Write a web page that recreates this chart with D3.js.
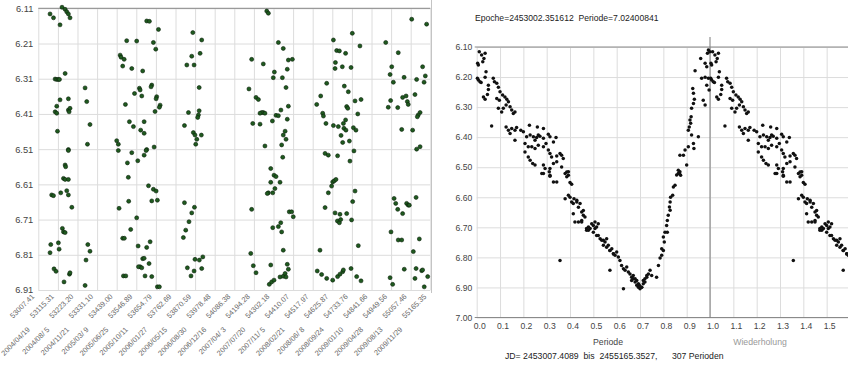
<!DOCTYPE html>
<html><head><meta charset="utf-8">
<script src="https://cdn.jsdelivr.net/npm/d3@7"></script>
<style>
body{margin:0;background:#fff;}
svg{display:block;font-family:"Liberation Sans",Arial,sans-serif;}
</style></head><body>
<svg id="c" width="848" height="365"></svg>
<script>
// ---------- data ----------
const jdTicks = [53007.41, 53115.31, 53223.20, 53331.10, 53439.00, 53546.89, 53654.79, 53762.69, 53870.59, 53978.48, 54086.38,
  54194.28, 54302.18, 54410.07, 54517.97, 54625.87, 54733.76, 54841.66, 54949.56, 55057.46, 55165.35];
const dateLabels = ["", "2004/04/19", "2004/08/ 5", "2004/11/21", "2005/03/ 9", "2005/06/25", "2005/10/11", "2006/01/27", "2006/05/15",
  "2006/08/30", "2006/12/16", "2007/04/ 3", "2007/07/20", "2007/11/ 5", "2008/02/21", "2008/06/ 8", "2008/09/24", "2009/01/10",
  "2009/04/28", "2009/08/13", "2009/11/29"];
const magTicksLeft = [6.11, 6.21, 6.31, 6.41, 6.51, 6.61, 6.71, 6.81, 6.91];
const phaseGrid = [0, 0.1, 0.2, 0.3, 0.4, 0.5, 0.6, 0.7, 0.8, 0.9, 1.0, 1.1, 1.2, 1.3, 1.4, 1.5, 1.6];
const phaseLabels = ["0.0", "0.1", "0.2", "0.3", "0.4", "0.5", "0.6", "0.7", "0.8", "0.9", "1.0", "1.1", "1.2", "1.3", "1.4", "1.5", ""];
const magTicksRight = [6.10, 6.20, 6.30, 6.40, 6.50, 6.60, 6.70, 6.80, 6.90, 7.00];
const titleText = "Epoche=2453002.351612  Periode=7.02400841";
const footerText = "JD= 2453007.4089  bis  2455165.3527,      307 Perioden";
const xTitle = "Periode", xTitleRepeat = "Wiederholung";

// [JD-2400000, mag]
const observations = [
[53072,6.126],[53091,6.137],[53127,6.157],[53138,6.107],[53155,6.113],[53164,6.12],[53173,6.126],[53182,6.137],
[53155,6.295],[53100,6.311],[53109,6.312],[53118,6.312],[53124,6.312],
[53127,6.37],[53173,6.367],[53109,6.388],[53100,6.404],[53109,6.408],[53173,6.399],[53182,6.394],[53177,6.404],
[53113,6.459],[53173,6.511],[53265,6.336],[53274,6.375],[53292,6.44],[53278,6.496],[53439,6.486],[53448,6.496],
[53604,6.146],[53619,6.147],[53669,6.17],[53494,6.202],[53549,6.203],[53641,6.207],[53654,6.226],
[53458,6.243],[53463,6.249],[53480,6.255],[53472,6.274],[53522,6.281],[53582,6.288],
[53564,6.337],[53568,6.342],[53537,6.352],[53577,6.359],[53632,6.328],[53628,6.333],[53659,6.361],[53656,6.367],
[53487,6.383],[53678,6.385],[53674,6.391],[53650,6.403],[53509,6.432],[53531,6.446],[53590,6.432],[53571,6.456],[53590,6.465],
[53604,6.511],[53645,6.504],[53858,6.179],[53907,6.2],[53852,6.246],[53898,6.238],[53825,6.271],[53865,6.271],[53893,6.335],
[53834,6.406],[53893,6.401],[53889,6.413],[53885,6.42],[53812,6.443],[53861,6.463],[53870,6.47],[53880,6.482],[53874,6.496],[53905,6.47],
[54265,6.118],[54274,6.124],[54329,6.207],[54356,6.224],[54182,6.255],[54246,6.268],[54384,6.257],[54406,6.255],[54378,6.283],
[54307,6.291],[54301,6.307],[54351,6.307],[54371,6.335],[54167,6.339],[54206,6.363],[54219,6.369],[54246,6.406],[54237,6.406],
[54228,6.408],[54255,6.408],[54384,6.388],[54343,6.399],[54316,6.414],[54329,6.415],[54378,6.425],[54296,6.43],[54188,6.437],
[54228,6.439],[54366,6.459],[54356,6.47],[54371,6.482],[54347,6.498],[54255,6.501],
[54632,6.2],[54736,6.181],[54778,6.217],[54650,6.23],[54665,6.231],[54699,6.238],[54643,6.264],[54641,6.281],[54681,6.276],
[54729,6.278],[54595,6.323],[54692,6.331],[54714,6.347],[54562,6.359],[54540,6.383],[54573,6.408],[54577,6.416],[54751,6.373],
[54784,6.369],[54705,6.389],[54711,6.394],[54766,6.41],[54591,6.437],[54632,6.443],[54659,6.446],[54687,6.437],[54699,6.427],
[54690,6.451],[54742,6.449],[54756,6.456],[54674,6.471],[54720,6.487],[54683,6.491],[54701,6.456],
[54920,6.207],[54989,6.236],[55063,6.141],[55145,6.155],[54953,6.276],[55123,6.276],[54944,6.298],[55021,6.306],[55090,6.312],
[55138,6.302],[54962,6.32],[55131,6.32],[55013,6.363],[55032,6.359],[55039,6.375],[55044,6.383],[55081,6.355],[54947,6.372],
[54934,6.391],[54986,6.392],[55109,6.406],[55099,6.413],[55094,6.418],[55008,6.454],[55068,6.456],[55109,6.503],[55090,6.51],
[53173,6.514],[53155,6.555],[53158,6.56],[53146,6.593],[53155,6.596],[53173,6.596],[53131,6.634],[53164,6.628],[53173,6.64],
[53081,6.64],[53091,6.642],[53192,6.675],[53140,6.735],[53146,6.745],[53155,6.747],[53076,6.781],[53072,6.804],[53118,6.776],
[53122,6.794],[53094,6.85],[53105,6.857],[53179,6.865],[53182,6.861],[53149,6.887],[53280,6.781],[53292,6.8],[53270,6.825],[53265,6.897],
[53448,6.514],[53498,6.549],[53522,6.52],[53555,6.543],[53590,6.527],[53601,6.514],[53503,6.59],[53505,6.658],[53452,6.678],
[53614,6.614],[53641,6.624],[53656,6.629],[53632,6.657],[53663,6.655],[53549,6.705],[53516,6.738],[53472,6.763],[53481,6.763],
[53557,6.785],[53623,6.773],[53604,6.789],[53582,6.821],[53590,6.82],[53568,6.844],[53559,6.844],[53577,6.847],[53617,6.835],
[53595,6.87],[53632,6.872],[53476,6.87],[53489,6.87],[53663,6.901],[53674,6.901],
[53812,6.662],[53837,6.716],[53819,6.74],[53806,6.761],[53867,6.675],[53852,6.691],[53828,6.847],[53848,6.87],[53865,6.856],
[53870,6.823],[53894,6.825],[53913,6.816],[53907,6.849],
[54353,6.533],[54287,6.565],[54305,6.584],[54316,6.588],[54287,6.604],[54338,6.604],[54310,6.622],[54274,6.634],[54298,6.634],
[54268,6.636],[54182,6.681],[54389,6.688],[54402,6.688],[54411,6.702],[54342,6.719],[54329,6.73],[54298,6.733],[54347,6.745],
[54356,6.797],[54177,6.806],[54191,6.841],[54206,6.861],[54287,6.839],[54378,6.837],[54384,6.851],[54279,6.894],[54292,6.887],
[54305,6.882],[54338,6.873],[54356,6.871],[54366,6.863],[54371,6.873],
[54586,6.522],[54604,6.527],[54655,6.529],[54745,6.515],[54723,6.544],[54628,6.603],[54637,6.6],[54646,6.596],[54622,6.615],
[54604,6.634],[54586,6.676],[54641,6.691],[54668,6.695],[54654,6.714],[54665,6.719],[54672,6.71],[54705,6.693],[54751,6.629],
[54738,6.659],[54732,6.711],[54769,6.784],[54558,6.797],[54543,6.856],[54567,6.866],[54595,6.877],[54628,6.882],[54655,6.872],
[54668,6.865],[54683,6.858],[54687,6.853],[54729,6.849],[54760,6.872],[54784,6.884],
[54966,6.65],[54975,6.664],[54986,6.681],[55013,6.693],[55035,6.664],[55044,6.669],[55050,6.669],[55087,6.647],[54949,6.745],
[54989,6.768],[55008,6.768],[55105,6.765],[55072,6.801],[55022,6.851],[55087,6.849],[55118,6.855],[55123,6.853],[55081,6.877],
[55151,6.872],[54944,6.875],[54958,6.894],[55132,6.901]
];

// [phase, mag]
const phased = [
[0.011,6.116],[0.021,6.127],[0.036,6.121],[0.031,6.138],[0.026,6.149],[0.007,6.16],[0.04,6.182],[0.003,6.204],[0.014,6.216],
[0.036,6.201],[0.029,6.266],[0.036,6.274],[0.05,6.227],[0.05,6.241],[0.071,6.204],[0.076,6.216],[0.086,6.221],[0.093,6.234],
[0.1,6.249],[0.086,6.271],[0.097,6.277],[0.111,6.26],[0.121,6.266],[0.129,6.274],[0.136,6.282],[0.126,6.293],[0.114,6.304],
[0.143,6.299],[0.15,6.31],[0.157,6.321],[0.164,6.316],[0.093,6.304],[0.107,6.316],[0.064,6.363],[0.126,6.366],[0.136,6.377],
[0.143,6.388],[0.15,6.371],[0.164,6.377],[0.171,6.368],[0.189,6.377],[0.2,6.382],[0.226,6.36],[0.26,6.366],[0.286,6.371],
[0.214,6.399],[0.229,6.393],[0.243,6.399],[0.25,6.41],[0.257,6.401],[0.264,6.393],[0.271,6.397],[0.286,6.404],[0.307,6.39],
[0.314,6.399],[0.329,6.416],[0.34,6.401],[0.164,6.41],[0.207,6.421],[0.221,6.432],[0.236,6.432],[0.25,6.438],[0.264,6.427],
[0.286,6.432],[0.297,6.421],[0.307,6.443],[0.314,6.454],[0.321,6.466],[0.343,6.463],[0.357,6.454],[0.364,6.46],[0.371,6.471],
[0.207,6.449],[0.221,6.466],[0.229,6.477],[0.24,6.488],[0.25,6.493],[0.286,6.493],[0.293,6.504],[0.314,6.504],[0.329,6.488],
[0.343,6.482],[0.364,6.499],[0.386,6.516],[0.393,6.527],[0.286,6.521],[0.314,6.527],
[0.004,6.154],[0.007,6.21],[0.019,6.218],[0.046,6.258],
[0.279,6.521],[0.311,6.515],[0.314,6.53],[0.329,6.549],[0.343,6.549],[0.379,6.521],[0.386,6.532],[0.393,6.515],[0.4,6.551],
[0.407,6.557],[0.379,6.605],[0.393,6.593],[0.4,6.6],[0.407,6.616],[0.414,6.621],[0.417,6.605],[0.429,6.616],[0.436,6.633],
[0.443,6.621],[0.414,6.655],[0.421,6.682],[0.436,6.682],[0.45,6.677],[0.45,6.649],[0.457,6.66],[0.464,6.666],[0.471,6.71],
[0.479,6.699],[0.486,6.704],[0.493,6.688],[0.5,6.694],[0.5,6.716],[0.507,6.704],[0.521,6.688],[0.514,6.727],[0.529,6.738],
[0.536,6.743],[0.543,6.76],[0.55,6.749],[0.557,6.738],[0.564,6.76],[0.571,6.777],[0.579,6.771],[0.586,6.788],[0.593,6.793],
[0.6,6.782],[0.607,6.799],[0.614,6.81],[0.621,6.827],[0.629,6.838],[0.636,6.843],[0.643,6.832],[0.65,6.849],[0.657,6.855],
[0.664,6.866],[0.671,6.86],[0.679,6.871],[0.686,6.877],[0.693,6.888],[0.7,6.904],[0.707,6.899],[0.697,6.893],[0.714,6.877],
[0.721,6.871],[0.729,6.86],[0.736,6.855],[0.357,6.81],[0.571,6.843],[0.629,6.904],
[0.664,6.877],[0.671,6.871],[0.679,6.882],[0.686,6.893],[0.693,6.899],[0.707,6.899],[0.714,6.888],[0.721,6.882],[0.729,6.866],
[0.743,6.843],[0.75,6.86],[0.771,6.866],[0.779,6.827],[0.786,6.802],[0.793,6.793],[0.8,6.777],[0.793,6.771],[0.804,6.749],
[0.807,6.716],[0.814,6.694],[0.817,6.677],[0.821,6.66],[0.826,6.632],[0.829,6.616],[0.831,6.6],[0.84,6.593],[0.843,6.566],
[0.85,6.56],[0.857,6.526],[0.864,6.521],[0.871,6.515],[0.829,6.643],[0.817,6.716],[0.8,6.732],
[0.429,6.61],[0.45,6.682],[0.457,6.644],[0.471,6.704],[0.479,6.71],[0.507,6.682],[0.514,6.699],[0.521,6.727],[0.543,6.743],
[0.557,6.766],[0.571,6.777],[0.586,6.788],
[0.993,6.11],[0.999,6.116],[0.989,6.121],[0.96,6.138],[0.979,6.154],[0.986,6.166],[0.936,6.179],[0.964,6.204],[0.979,6.201],
[0.993,6.204],[0.986,6.227],[0.996,6.243],[0.926,6.238],[0.929,6.254],[0.933,6.274],[0.929,6.288],[0.921,6.304],[0.971,6.277],
[0.979,6.293],[0.919,6.332],[0.914,6.343],[0.917,6.354],[0.911,6.366],[0.907,6.377],[0.921,6.393],[0.95,6.399],[0.929,6.421],
[0.931,6.438],[0.907,6.432],[0.893,6.443],[0.886,6.46],[0.871,6.46],[0.9,6.493],[0.864,6.51],[0.869,6.521],[0.874,6.527]
];

// ---------- drawing ----------
const svg = d3.select("#c");
const gridC = "#dcdcdc";

// Left panel
const lx = d3.scaleLinear().domain([jdTicks[0], jdTicks[jdTicks.length - 1]]).range([38.3, 430.3]);
const ly = d3.scaleLinear().domain([6.11, 6.91]).range([8.3, 290]);

const lyAxis = svg.append("g").attr("transform", `translate(${lx.range()[0]},0)`)
  .call(d3.axisLeft(ly).tickValues(magTicksLeft).tickSize(-(lx.range()[1] - lx.range()[0])).tickPadding(5).tickFormat(d3.format(".2f")));
const lxAxis = svg.append("g").attr("transform", `translate(0,${ly.range()[1]})`)
  .call(d3.axisBottom(lx).tickValues(jdTicks).tickSize(-(ly.range()[1] - ly.range()[0])).tickFormat(d => d.toFixed(2)));

[lyAxis, lxAxis].forEach(a => {
  a.select(".domain").remove();
  a.selectAll(".tick line").attr("stroke", gridC).attr("stroke-width", 1);
});
lyAxis.selectAll("text").attr("fill", "#444").style("font-size", "9.3px");
lxAxis.selectAll("text").attr("fill", "#666").style("font-size", "7.4px")
  .attr("x", null).attr("y", null).attr("dy", null)
  .attr("text-anchor", "end").attr("transform", "translate(-4,7) rotate(-45)");
lxAxis.selectAll(".tick").each(function (d, i) {
  if (!dateLabels[i]) return;
  d3.select(this).append("text").text(dateLabels[i])
    .attr("fill", "#666").style("font-size", "7.4px").style("white-space", "pre")
    .attr("text-anchor", "end").attr("transform", "translate(-28,40) rotate(-45)");
});
// top border line
svg.append("line").attr("x1", lx.range()[0]).attr("x2", lx.range()[1]).attr("y1", ly(6.11)).attr("y2", ly(6.11))
  .attr("stroke", "#9a9a9a").attr("stroke-width", 1.2);
// separator
svg.append("line").attr("x1", 431.5).attr("x2", 431.5).attr("y1", 0).attr("y2", 293).attr("stroke", "#c4c4c4");

svg.append("g").selectAll("circle").data(observations).join("circle")
  .attr("cx", d => lx(d[0])).attr("cy", d => ly(d[1])).attr("r", 2)
  .attr("fill", "#1f5a1f").attr("stroke", "#0c200c").attr("stroke-width", 0.6);

// Right panel
const rx = d3.scaleLinear().domain([0, 1.6]).range([476.7, 850]);
const ry = d3.scaleLinear().domain([6.10, 7.00]).range([47, 317.5]);

const ryAxis = svg.append("g").attr("transform", `translate(${rx(0)},0)`)
  .call(d3.axisLeft(ry).tickValues(magTicksRight).tickSize(-(rx.range()[1] - rx(0))).tickPadding(4.5).tickFormat(d3.format(".2f")));
const rxAxis = svg.append("g").attr("transform", `translate(0,${ry(7.0)})`)
  .call(d3.axisBottom(rx).tickValues(phaseGrid).tickSize(-(ry(7.0) - ry(6.1))).tickPadding(5).tickFormat((d, i) => phaseLabels[i]));
[ryAxis, rxAxis].forEach(a => {
  a.select(".domain").remove();
  a.selectAll(".tick line").attr("stroke", gridC).attr("stroke-width", 1);
});
ryAxis.selectAll("text").attr("fill", "#444").style("font-size", "8.6px");
rxAxis.selectAll("text").attr("fill", "#444").style("font-size", "8.6px").attr("x", 2.5);

// frame lines
svg.append("line").attr("x1", rx(0) - 2).attr("x2", 848).attr("y1", ry(6.1)).attr("y2", ry(6.1))
  .attr("stroke", "#8a8a8a").attr("stroke-width", 1.2);
svg.append("line").attr("x1", rx(0) - 2).attr("x2", 848).attr("y1", ry(7.0)).attr("y2", ry(7.0))
  .attr("stroke", "#8a8a8a").attr("stroke-width", 1.2);
svg.append("line").attr("x1", rx(1)).attr("x2", rx(1)).attr("y1", ry(6.1) - 10).attr("y2", ry(7.0))
  .attr("stroke", "#7a7a7a").attr("stroke-width", 1);

const repeated = phased.filter(d => d[0] + 1 <= 1.6).map(d => [d[0] + 1, d[1]]);
svg.append("g").selectAll("circle").data(phased.concat(repeated)).join("circle")
  .attr("cx", d => rx(d[0])).attr("cy", d => ry(d[1])).attr("r", 1.75).attr("fill", "#111");

// texts
svg.append("text").attr("x", 475).attr("y", 21).text(titleText)
  .style("font-size", "8.6px").style("white-space", "pre").attr("fill", "#222");
svg.append("text").attr("x", 608).attr("y", 345).attr("text-anchor", "middle").text(xTitle)
  .style("font-size", "8.7px").attr("fill", "#444");
svg.append("text").attr("x", 760).attr("y", 345).attr("text-anchor", "middle").text(xTitleRepeat)
  .style("font-size", "8.7px").attr("fill", "#999");
svg.append("text").attr("x", 505).attr("y", 359).text(footerText)
  .style("font-size", "8.7px").style("white-space", "pre").attr("fill", "#222");
</script>
</body></html>
